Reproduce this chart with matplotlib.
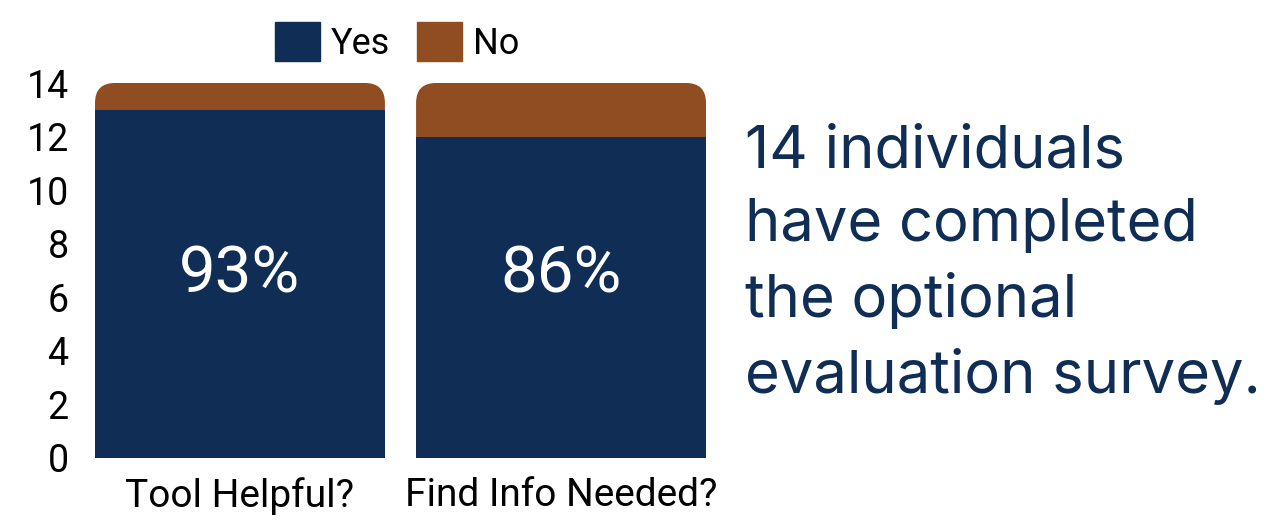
import numpy as np
import matplotlib
matplotlib.use("Agg")
import matplotlib.pyplot as plt
from matplotlib.patches import FancyBboxPatch, Patch

# Data
categories = ["Tool Helpful?", "Find Info Needed?"]
yes_counts = [13, 12]
no_counts = [1, 2]
yticks = [0, 2, 4, 6, 8, 10, 12, 14]
note = "14 individuals\nhave completed\nthe optional\nevaluation survey."

navy = "#0F2D55"
brown = "#8F4D21"

plt.rcParams['font.family'] = ['Roboto', 'DejaVu Sans']

fig = plt.figure(figsize=(12.79, 5.24), dpi=100)
ax = fig.add_axes([95 / 1279, 1 - 458 / 524, (706 - 95) / 1279, (458 - 83) / 524])

x = np.arange(len(categories))
width = 0.903
yes = np.array(yes_counts)
no = np.array(no_counts)

# No segment, drawn as rounded box and partly hidden behind the Yes bar
no_bars = ax.bar(x, no, width, bottom=yes, color=brown, label="No")
for rect in no_bars:
    rect.set_visible(False)
    box = FancyBboxPatch((rect.get_x(), rect.get_y() - 1), rect.get_width(),
                         rect.get_height() + 1,
                         boxstyle="round,pad=0,rounding_size=0.062",
                         mutation_aspect=12, facecolor=brown, edgecolor='none',
                         zorder=2)
    ax.add_patch(box)
ax.bar(x, yes, width, color=navy, label="Yes", zorder=3)

for xi, y_, n_ in zip(x, yes, no):
    pct = round(100 * y_ / (y_ + n_))
    ax.text(xi, 6.85, f"{pct}%", color="white", fontsize=47,
            ha="center", va="center", zorder=4)

ax.set_xlim(-width / 2, len(categories) - 1 + width / 2)
ax.set_ylim(0, 14)
ax.set_yticks(yticks)
ax.set_xticks(x)
ax.set_xticklabels(categories)
ax.tick_params(axis='y', length=0, labelsize=27, pad=19)
ax.tick_params(axis='x', length=0, labelsize=28, pad=14)
for s in ax.spines.values():
    s.set_visible(False)

# legend with Yes first
handles = [Patch(color=navy, label="Yes"), Patch(color=brown, label="No")]
fig.legend(handles=handles, loc="center", bbox_to_anchor=(397 / 1279, 1 - 42 / 524),
           ncol=2, frameon=False, fontsize=26, handlelength=1.25, handleheight=1.25,
           handletextpad=0.3, columnspacing=0.75)

fig.text(745 / 1279, 1 - 125 / 524, note, color=navy, fontsize=43,
         family=['Inter', 'DejaVu Sans'], ha="left", va="top", linespacing=1.42)

fig.savefig("out.png", dpi=100)
